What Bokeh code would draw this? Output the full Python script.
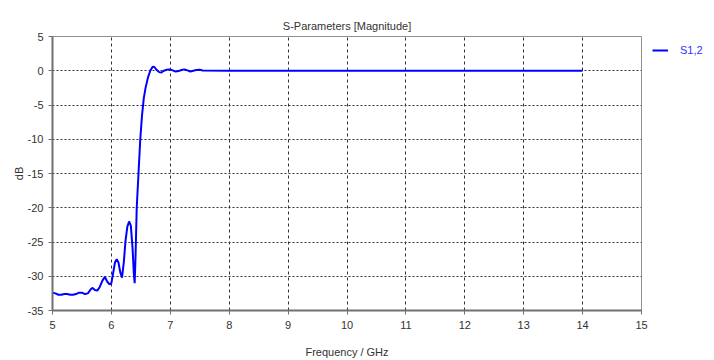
from bokeh.plotting import figure
from bokeh.models import Range1d, FixedTicker, Legend, LegendItem
from bokeh.embed import file_html
from bokeh.resources import INLINE

freq = [5.00, 5.05, 5.10, 5.15, 5.20, 5.25, 5.30, 5.35, 5.40, 5.45, 5.50, 5.55, 5.60,
        5.65, 5.68, 5.72, 5.76, 5.80, 5.85, 5.89, 5.93, 5.97, 6.00, 6.03, 6.06, 6.09,
        6.12, 6.15, 6.18, 6.21, 6.24, 6.27, 6.30, 6.33, 6.36, 6.38, 6.395, 6.41, 6.43,
        6.46, 6.49, 6.52, 6.55, 6.58, 6.62, 6.66, 6.70, 6.73, 6.77, 6.81, 6.85, 6.89,
        6.94, 6.99, 7.04, 7.09, 7.14, 7.19, 7.24, 7.29, 7.34, 7.39, 7.44, 7.50, 7.55,
        8.0, 9.0, 10.0, 11.0, 12.0, 13.0, 14.0]
s12 = [-32.4, -32.5, -32.7, -32.7, -32.6, -32.6, -32.7, -32.7, -32.6, -32.4, -32.4, -32.6, -32.5,
       -31.9, -31.7, -32.0, -32.1, -31.6, -30.6, -30.1, -30.8, -31.2, -31.0, -29.5, -28.0, -27.5,
       -28.0, -29.4, -30.2, -28.0, -24.8, -22.8, -22.0, -22.6, -26.0, -29.5, -31.0, -27.0, -20.0,
       -15.0, -10.0, -6.5, -4.0, -2.5, -1.0, 0.0, 0.6, 0.55, 0.1, -0.2, -0.25, 0.0,
       0.15, 0.2, 0.05, -0.1, -0.05, 0.1, 0.2, 0.05, -0.1, 0.0, 0.1, 0.15, 0.05,
       0.0, 0.0, 0.0, 0.0, 0.0, 0.0, 0.0]

x_ticks = [5, 6, 7, 8, 9, 10, 11, 12, 13, 14, 15]
y_ticks = [5, 0, -5, -10, -15, -20, -25, -30, -35]

FONT = "Liberation Sans"

p = figure(frame_width=589, frame_height=274, output_backend="svg", toolbar_location=None,
           x_range=Range1d(5, 15), y_range=Range1d(-35, 5),
           min_border_left=52, min_border_right=64, min_border_top=36, min_border_bottom=48)

p.title.text = "S-Parameters [Magnitude]"
p.title.align = "center"
p.title.text_font = FONT
p.title.text_font_size = "11px"
p.title.text_font_style = "normal"
p.title.text_color = "#333333"

r = p.line(freq, s12, line_color="#0000ff", line_width=2)

p.xaxis.ticker = FixedTicker(ticks=x_ticks)
p.yaxis.ticker = FixedTicker(ticks=y_ticks)
p.xaxis.major_label_overrides = {t: str(t) for t in x_ticks}
p.yaxis.major_label_overrides = {t: str(t) for t in y_ticks}
p.xaxis.axis_label = "Frequency / GHz"
p.yaxis.axis_label = "dB"
for ax in (p.xaxis[0], p.yaxis[0]):
    ax.axis_label_text_font = FONT
    ax.axis_label_text_font_size = "11px"
    ax.axis_label_text_font_style = "normal"
    ax.axis_label_text_color = "#333333"
    ax.major_label_text_font = FONT
    ax.major_label_text_font_size = "11px"
    ax.major_label_text_color = "#333333"
    ax.axis_line_color = "#707070"
    ax.axis_line_width = 2
    ax.major_tick_line_color = "#707070"
    ax.major_tick_in = 0
    ax.major_tick_out = 4
    ax.minor_tick_line_color = None
p.xaxis.axis_label_standoff = 14
p.xaxis.major_label_standoff = 6
p.yaxis.axis_label_standoff = 0
p.yaxis.major_label_standoff = 5

p.outline_line_color = "#909090"
p.outline_line_width = 1

p.xgrid.grid_line_color = "#333333"
p.xgrid.grid_line_dash = "3 3"
p.ygrid.grid_line_color = "#333333"
p.ygrid.grid_line_dash = "2 2"

legend = Legend(items=[LegendItem(label="S1,2", renderers=[r])],
                location=(11, 254), border_line_color=None, background_fill_alpha=0,
                label_text_font=FONT, label_text_font_size="11px", label_text_color="#3333ff",
                glyph_width=16, glyph_height=12, label_height=12, padding=0, margin=0,
                label_standoff=12)
p.add_layout(legend, "right")

open("out.html", "w").write(file_html(p, INLINE))
